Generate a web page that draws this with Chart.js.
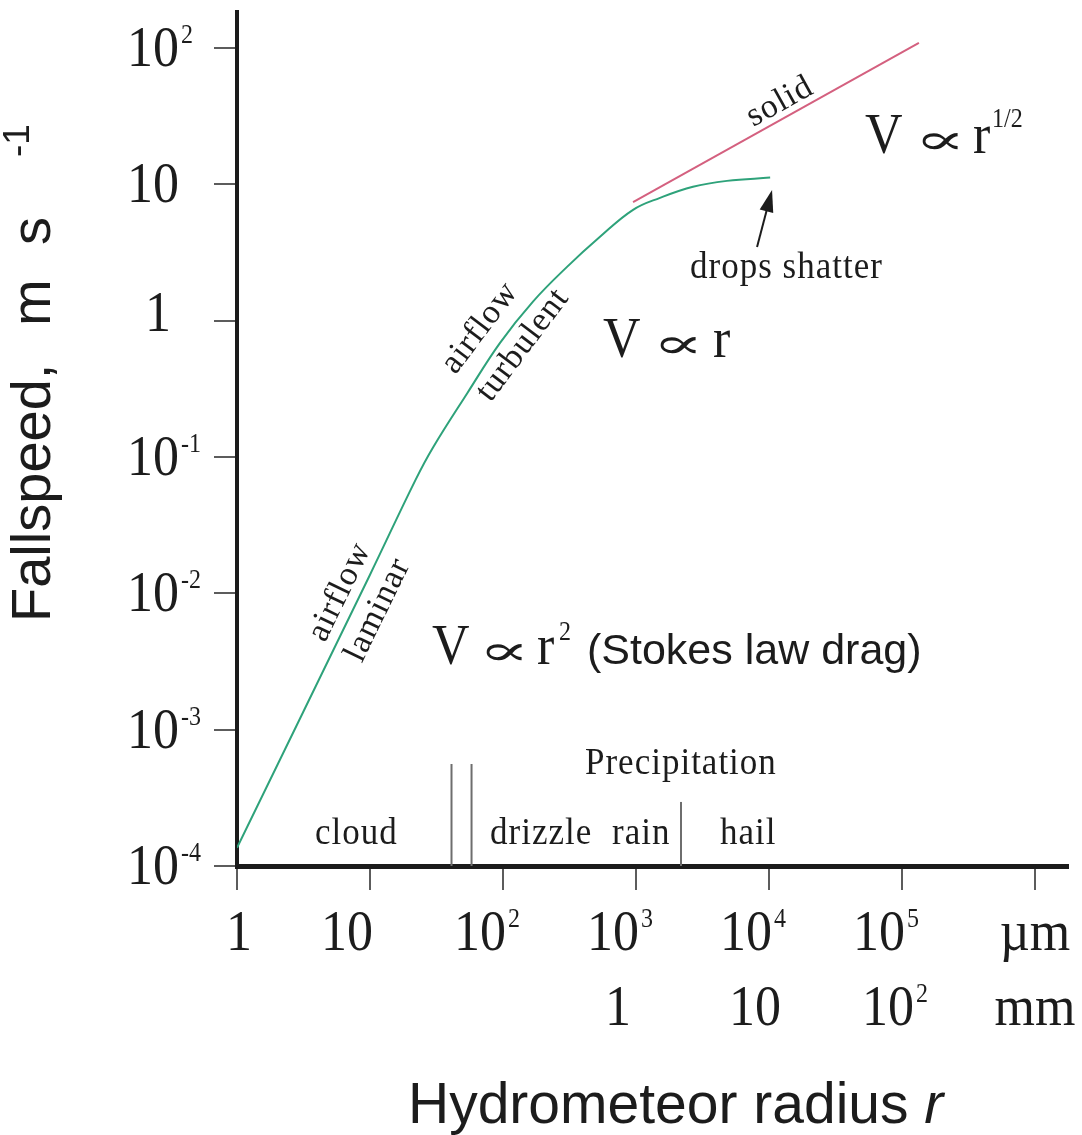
<!DOCTYPE html>
<html>
<head>
<meta charset="utf-8">
<title>Hydrometeor fallspeed</title>
<script src="https://cdn.jsdelivr.net/npm/chart.js@4.4.1/dist/chart.umd.min.js"></script>
<style>
  html, body { margin: 0; padding: 0; background: #fff; }
  #wrap { width: 1082px; height: 1135px; position: relative; }
</style>
</head>
<body>
<div id="wrap"><canvas id="chart"></canvas></div>
<script>
// fall speed of water drops: radius in µm, speed in m/s
const dropRadius = [1, 10, 22, 30, 54, 95, 168, 303, 536, 950, 1515, 2680, 4830, 10200];
const dropSpeed = [1.36e-4, 0.0137, 0.068, 0.119, 0.295, 0.688, 1.38, 2.48, 4.12, 6.5, 7.96, 9.6, 10.6, 11.2];

// solid particles, V ~ r^1/2
const solidRadius = [950, 134000];
const solidSpeed = [7.4, 109];

// cloud / drizzle / rain / hail dividers
const boundaryRadius = [41, 58, 2180];
const boundaryTop = [5.6e-4, 5.6e-4, 2.95e-4];

// "drops shatter" arrow, tail then tip
const arrowRadius = [8130, 10540];
const arrowSpeed = [3.47, 9.1];

// tick labels
const xTickValues = [1, 10, 1e2, 1e3, 1e4, 1e5, 1e6];
const umTickBase = ['1', '10', '10', '10', '10', '10', 'µm'];
const umTickExp = ['', '', '2', '3', '4', '5', ''];
const mmTickValues = [1e3, 1e4, 1e5, 1e6];
const mmTickBase = ['1', '10', '10', 'mm'];
const mmTickExp = ['', '', '2', ''];
const yTickValues = [1e-4, 1e-3, 1e-2, 1e-1, 1, 10, 1e2];
const yTickBase = ['10', '10', '10', '10', '1', '10', '10'];
const yTickExp = ['-4', '-3', '-2', '-1', '', '', '2'];

const SERIF = '"Liberation Serif", "Times New Roman", "DejaVu Serif", serif';
const SANS = '"Liberation Sans", Arial, sans-serif';
const STRETCH = 1.1;
const INK = '#1c1c1c';

function serifText(ctx, str, x, y, size, align, spacing) {
    ctx.save();
    ctx.translate(x, y);
    ctx.scale(1, STRETCH);
    ctx.font = size + 'px ' + SERIF;
    ctx.letterSpacing = (spacing || 0) + 'px';
    ctx.textAlign = align || 'left';
    ctx.textBaseline = 'alphabetic';
    ctx.fillText(str, 0, 0);
    ctx.restore();
}

function serifWidth(ctx, str, size) {
    ctx.save();
    ctx.font = size + 'px ' + SERIF;
    const w = ctx.measureText(str).width;
    ctx.restore();
    return w;
}

// base number with optional superscript; x is the base's left, right or centre
function powerLabel(ctx, base, exp, x, y, align) {
    const w = serifWidth(ctx, base, 52);
    let left = x;
    if (align === 'right') left = x - w;
    if (align === 'center') left = x - w / 2;
    serifText(ctx, base, left, y, 52);
    if (exp) serifText(ctx, exp, left + w + 2, y - 23, 24);
}

// proportional sign, fitted into a 36 x 17 box sitting just above the baseline
function propSign(ctx, x, baseline) {
    ctx.save();
    ctx.font = '40px "DejaVu Serif", ' + SERIF;
    const m = ctx.measureText('\u221D');
    const gw = m.actualBoundingBoxLeft + m.actualBoundingBoxRight;
    const gh = m.actualBoundingBoxAscent + m.actualBoundingBoxDescent;
    const sx = 36 / gw, sy = 17 / gh;
    ctx.translate(x, baseline - 3);
    ctx.scale(sx, sy);
    ctx.textBaseline = 'alphabetic';
    ctx.fillText('\u221D', m.actualBoundingBoxLeft, -m.actualBoundingBoxDescent);
    ctx.restore();
}

function rotatedText(ctx, str, x, y, angle, size) {
    ctx.save();
    ctx.translate(x, y);
    ctx.rotate(angle * Math.PI / 180);
    ctx.font = size + 'px ' + SERIF;
    ctx.letterSpacing = '1px';
    ctx.textAlign = 'center';
    ctx.textBaseline = 'middle';
    ctx.fillText(str, 0, 0);
    ctx.restore();
}

const labelsPlugin = {
    id: 'labels',
    afterDraw(chart) {
        const ctx = chart.ctx;
        const xs = chart.scales.x;
        const ys = chart.scales.y;
        ctx.save();
        ctx.fillStyle = INK;

        // radius in µm
        xTickValues.forEach((v, i) => {
            const px = xs.getPixelForValue(v);
            const base = umTickBase[i];
            if (base === '10') powerLabel(ctx, base, umTickExp[i], px + 3, 950, 'right');
            else if (base === '1') powerLabel(ctx, base, '', px + 2, 950, 'center');
            else powerLabel(ctx, base, '', px, 950, 'center');
        });
        // radius in mm
        mmTickValues.forEach((v, i) => {
            const px = xs.getPixelForValue(v);
            const base = mmTickBase[i];
            if (base === '10') powerLabel(ctx, base, mmTickExp[i], px + 12, 1025, 'right');
            else if (base === '1') powerLabel(ctx, base, '', px - 18, 1025, 'center');
            else powerLabel(ctx, base, '', px, 1025, 'center');
        });
        // fallspeed
        yTickValues.forEach((v, i) => {
            const py = ys.getPixelForValue(v);
            const base = yTickBase[i];
            if (base === '1') powerLabel(ctx, base, '', chart.chartArea.left - 79, py + 10, 'center');
            else powerLabel(ctx, base, yTickExp[i], chart.chartArea.left - 84, py + 18, 'center');
        });

        // y title, read bottom to top
        ctx.save();
        ctx.translate(50, 622);
        ctx.rotate(-Math.PI / 2);
        ctx.font = '56px ' + SANS;
        ctx.textBaseline = 'alphabetic';
        ctx.fillText('Fallspeed,', 0, 0);
        ctx.fillText('m', 296, 0);
        ctx.fillText('s', 377, 0);
        ctx.font = '37px ' + SANS;
        ctx.fillText('-1', 465, -21);
        ctx.restore();

        // x title
        ctx.font = '57px ' + SANS;
        ctx.textBaseline = 'alphabetic';
        const xt = 'Hydrometeor radius ';
        ctx.fillText(xt, 408, 1123);
        const xw = ctx.measureText(xt).width;
        ctx.font = 'italic 57px ' + SANS;
        ctx.fillText('r', 408 + xw, 1123);

        // proportionality notes
        serifText(ctx, 'V', 432, 664, 52);
        propSign(ctx, 486, 664);
        serifText(ctx, 'r', 537, 664, 52);
        serifText(ctx, '2', 559, 640, 24);
        ctx.font = '43px ' + SANS;
        ctx.fillText('(Stokes law drag)', 587, 664);

        serifText(ctx, 'V', 603, 357, 52);
        propSign(ctx, 660, 357);
        serifText(ctx, 'r', 713, 357, 52);

        serifText(ctx, 'V', 865, 153, 52);
        propSign(ctx, 922, 153);
        serifText(ctx, 'r', 973, 153, 52);
        serifText(ctx, '1/2', 992, 127, 24);

        // size classes
        serifText(ctx, 'Precipitation', 585, 774, 35, 'left', 1);
        serifText(ctx, 'cloud', 315, 844, 35, 'left', 1);
        serifText(ctx, 'drizzle', 490, 844, 35, 'left', 1);
        serifText(ctx, 'rain', 612, 844, 35, 'left', 1);
        serifText(ctx, 'hail', 720, 844, 35, 'left', 1);
        serifText(ctx, 'drops shatter', 690, 278, 35, 'left', 1);

        // regime labels along the curves
        rotatedText(ctx, 'airflow', 340, 592, -64, 34);
        rotatedText(ctx, 'laminar', 378, 610, -64, 34);
        rotatedText(ctx, 'airflow', 480, 328, -53, 34);
        rotatedText(ctx, 'turbulent', 523, 345, -53, 34);
        rotatedText(ctx, 'solid', 780, 102, -29, 34);

        // arrow
        const x0 = xs.getPixelForValue(arrowRadius[0]);
        const y0 = ys.getPixelForValue(arrowSpeed[0]);
        const x1 = xs.getPixelForValue(arrowRadius[1]);
        const y1 = ys.getPixelForValue(arrowSpeed[1]);
        const a = Math.atan2(y1 - y0, x1 - x0);
        ctx.strokeStyle = INK;
        ctx.lineWidth = 2;
        ctx.beginPath();
        ctx.moveTo(x0, y0);
        ctx.lineTo(x1 - 18 * Math.cos(a), y1 - 18 * Math.sin(a));
        ctx.stroke();
        ctx.beginPath();
        ctx.moveTo(x1, y1);
        ctx.lineTo(x1 - 22 * Math.cos(a) + 7 * Math.sin(a), y1 - 22 * Math.sin(a) - 7 * Math.cos(a));
        ctx.lineTo(x1 - 22 * Math.cos(a) - 7 * Math.sin(a), y1 - 22 * Math.sin(a) + 7 * Math.cos(a));
        ctx.closePath();
        ctx.fill();

        ctx.restore();
    }
};

const boundarySets = boundaryRadius.map((r, i) => ({
    data: [{ x: r, y: 1e-4 }, { x: r, y: boundaryTop[i] }],
    borderColor: '#6e6e6e',
    borderWidth: 2,
    pointRadius: 0
}));

new Chart(document.getElementById('chart'), {
    type: 'line',
    data: {
        datasets: [
            {
                data: dropRadius.map((r, i) => ({ x: r, y: dropSpeed[i] })),
                borderColor: '#2ea27a',
                borderWidth: 2,
                pointRadius: 0,
                tension: 0.4
            },
            {
                data: solidRadius.map((r, i) => ({ x: r, y: solidSpeed[i] })),
                borderColor: '#d4607f',
                borderWidth: 2,
                pointRadius: 0
            },
            ...boundarySets
        ]
    },
    options: {
        responsive: true,
        maintainAspectRatio: false,
        animation: false,
        layout: { padding: { top: 12, right: 14, left: 0, bottom: 0 } },
        plugins: { legend: { display: false }, tooltip: { enabled: false } },
        scales: {
            x: {
                type: 'logarithmic',
                min: 1,
                max: Math.pow(10, 6.248),
                bounds: 'data',
                ticks: { display: false },
                grid: { drawOnChartArea: false, drawTicks: true, tickLength: 24, color: '#5c5c5c', lineWidth: 2 },
                border: { display: true, color: '#1b1b1b', width: 5 },
                afterBuildTicks: s => { s.ticks = xTickValues.map(v => ({ value: v })); },
                afterFit: s => { s.height = 269; }
            },
            y: {
                type: 'logarithmic',
                min: 1e-4,
                max: Math.pow(10, 2.264),
                bounds: 'data',
                ticks: { display: false },
                grid: { drawOnChartArea: false, drawTicks: true, tickLength: 23, color: '#5c5c5c', lineWidth: 2 },
                border: { display: true, color: '#1b1b1b', width: 4 },
                afterBuildTicks: s => { s.ticks = yTickValues.map(v => ({ value: v })); },
                afterFit: s => { s.width = 237; }
            }
        }
    },
    plugins: [labelsPlugin]
});
</script>
</body>
</html>
